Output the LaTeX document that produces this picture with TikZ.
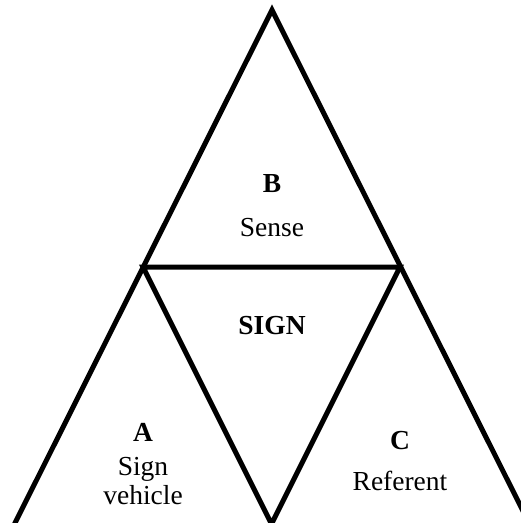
\documentclass[tikz,border=0pt]{standalone}
\usepackage{fontspec}
\setmainfont{Liberation Serif}
\begin{document}
\begin{tikzpicture}[x=1pt,y=-1pt,
  edge/.style={line width=5pt,line join=miter,line cap=butt},
  lbl/.style={anchor=base,inner sep=0pt,font=\fontsize{27.5}{32}\selectfont},
  blbl/.style={lbl,font=\fontsize{27.5}{32}\selectfont\bfseries}]
\useasboundingbox (0,0) rectangle (521,523);
\clip (0,0) rectangle (521,523);
\coordinate (apex) at (272,10);
\coordinate (L) at (143,267);
\coordinate (R) at (400,267);
\coordinate (V) at (271.5,524);
\coordinate (BL) at (14.5,524);
\coordinate (BR) at (529.5,524);
\draw[edge] (BL) -- (apex) -- (BR);
\draw[edge] (L) -- (R) -- (V) -- cycle;
\node[blbl] (b) at (272,192) {B};
\node[lbl] (sense) at (272,236) {Sense};
\node[blbl] (sign) at (272,334) {SIGN};
\node[blbl] (a) at (143,441) {A};
\node[lbl] (sgn) at (143,475) {Sign};
\node[lbl] (veh) at (143,504) {vehicle};
\node[blbl] (c) at (400,449) {C};
\node[lbl] (ref) at (400,490) {Referent};
\end{tikzpicture}
\end{document}
